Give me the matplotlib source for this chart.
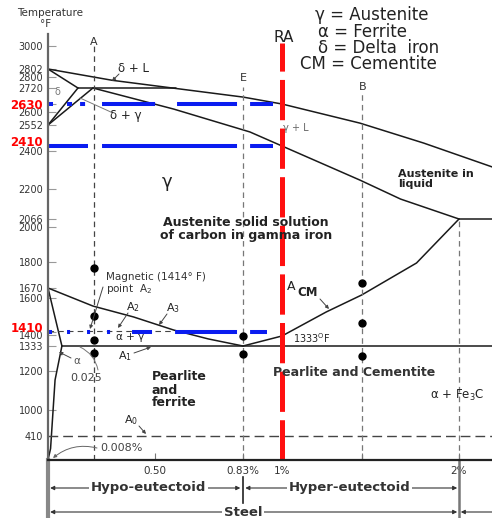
import numpy as np
import matplotlib
matplotlib.use("Agg")
import matplotlib.pyplot as plt
import matplotlib.transforms as mtransforms

plt.rcParams['font.family'] = ['DejaVu Sans']
plt.rcParams['lines.scale_dashes'] = False

# temperature (deg F) ticks on the left axis, red ones are the RA marks
temp_ticks = [410, 1000, 1200, 1333, 1400, 1410, 1600, 1670, 1800, 2000, 2066,
              2200, 2400, 2410, 2552, 2600, 2630, 2720, 2800, 2802, 3000]
red_ticks = [1410, 2410, 2630]
carbon_ticks = [0.5, 0.83, 1.0, 1.45, 2.0]
carbon_labels = ["0.50", "0.83%", "1%", "", "2%"]

# phase boundaries (carbon %, deg F)
liquidus_c = [0, 0.30, 0.83, 1.0, 1.44, 1.8, 2.19]
liquidus_t = [2802, 2776, 2669, 2630, 2559, 2430, 2316]
solidus_c = [0.21, 0.57, 0.86, 1.0, 1.44, 1.67, 2.0]
solidus_t = [2720, 2611, 2505, 2410, 2247, 2155, 2066]
delta_top_c = [0, 0.14]
delta_top_t = [2802, 2720]
delta_a_c = [0, 0.14]
delta_a_t = [2552, 2720]
delta_b_c = [0, 0.21]
delta_b_t = [2552, 2720]
peritectic_c = [0.14, 0.58]
peritectic_t = [2720, 2720]
eutectic_c = [2.0, 2.19]
eutectic_t = [2066, 2066]
a3_c = [0, 0.21, 0.40, 0.57, 0.70, 0.83]
a3_t = [1670, 1555, 1494, 1421, 1376, 1333]
acm_c = [0.83, 1.0, 1.25, 1.45, 1.76, 2.0]
acm_t = [1333, 1394, 1522, 1621, 1795, 2066]
alpha_c = [0, 0.065]
alpha_t = [1670, 1333]
solvus_c = [0.065, 0.033, 0.012, 0]
solvus_t = [1333, 1154, 300, 200]
a1_c = [0.065, 2.19]
a1_t = [1333, 1333]
a2_c = [0, 0.57]
a2_t = [1414, 1414]
a0_c = [0, 2.19]
a0_t = [410, 410]

# composition verticals
line_a = 0.215
line_e = 0.83
line_b = 1.45
line_ra = 1.0
top_a, top_e, top_b, top_ra = 3008, 2725, 2697, 3025

# RA temperatures (blue) and their extent
blue_t = [2630, 2410, 1410]
blue_end = [0.96, 0.96, 0.935]

# points marked on the verticals
dots_c = [0.215, 0.215, 0.215, 0.215, 0.83, 0.83, 1.45, 1.45, 1.45]
dots_t = [1770, 1500, 1370, 1295, 1394, 1290, 1695, 1460, 1280]

# ---- non linear axes of the drawing (piecewise) ----
C_KNOTS = [0, 0.5, 0.83, 1.0, 2.0, 2.2]
C_PIX = [48, 155, 243, 282, 459, 494]
T_KNOTS = [200] + temp_ticks + [3100]
T_PIX = [460, 436, 410, 371, 346, 335, 332, 298, 288, 262, 227, 219,
         189, 151, 146, 125, 112, 104, 88, 77, 69, 46, 34]
TP = -np.array(T_PIX, float)


def c_fwd(x):
    return np.interp(x, C_KNOTS, C_PIX)


def c_inv(p):
    return np.interp(p, C_PIX, C_KNOTS)


def t_fwd(t):
    return np.interp(t, T_KNOTS, TP)


def t_inv(p):
    return np.interp(p, TP, T_KNOTS)


W, H = 492, 518
fig = plt.figure(figsize=(W / 100, H / 100), dpi=100)
ax = fig.add_axes([48 / W, (H - 460) / H, 444 / W, 426 / H])
ax.set_xscale('function', functions=(c_fwd, c_inv))
ax.set_yscale('function', functions=(t_fwd, t_inv))

px = mtransforms.Affine2D().scale(1 / W, -1 / H).translate(0, 1) + fig.transFigure
blend = mtransforms.blended_transform_factory(ax.transData, px)

k = '#1a1a1a'
lw = 1.1
for cc, tt in [(liquidus_c, liquidus_t), (solidus_c, solidus_t),
               (delta_top_c, delta_top_t), (delta_a_c, delta_a_t),
               (delta_b_c, delta_b_t), (peritectic_c, peritectic_t),
               (eutectic_c, eutectic_t), (a3_c, a3_t), (acm_c, acm_t),
               (alpha_c, alpha_t), (solvus_c, solvus_t), (a1_c, a1_t)]:
    ax.plot(cc, tt, color=k, lw=lw, solid_capstyle='round')

ax.plot(a2_c, a2_t, color='#444', lw=0.8, linestyle=(0, (4, 3)))
ax.plot(a0_c, a0_t, color='#444', lw=1.0, linestyle=(0, (7, 3.6)))

# verticals
ax.plot([line_a, line_a], [200, top_a], color='#444', lw=0.9, linestyle=(0, (4, 3)))
ax.plot([line_e, line_e], [200, top_e], color='#777', lw=0.9, linestyle=(0, (4, 3)))
ax.plot([line_b, line_b], [200, top_b], color='#777', lw=0.9, linestyle=(0, (4, 3)))
ax.plot([2.0, 2.0], [200, 2066], color='#777', lw=0.9, linestyle=(0, (4, 3)))

# blue RA temperature lines
blue_dash = [
    (0, (3.6, 10.1, 3.6, 5.8, 3.6, 12.2, 38.2, 15.8, 43.2, 9.4, 16.6, 40)),
    (0, (28.8, 10.1, 97.2, 9.4, 17.3, 40)),
    (0, (2.9, 10.8, 2.2, 12.2, 2.2, 12.2, 2.2, 15.8, 14.4, 16.6, 44.6, 9.4, 12.2, 40)),
]
for t, e, d in zip(blue_t, blue_end, blue_dash):
    ax.plot([0, e], [t, t], color='#0a1cf0', lw=2.9, linestyle=d)

ax.plot([line_ra, line_ra], [200, top_ra], color='#ff1010', lw=3.6,
        linestyle=(0, (29, 6)))

ax.plot(dots_c, dots_t, 'o', color='black', ms=5)

# axes
ax.set_xlim(0, 2.1886)
ax.set_ylim(200, 3100)
ax.spines['top'].set_visible(False)
ax.spines['right'].set_visible(False)
ax.spines['left'].set_color('#666')
ax.spines['left'].set_linewidth(1.6)
ax.spines['bottom'].set_color('#222')
ax.spines['bottom'].set_linewidth(1.6)
ax.set_yticks(temp_ticks)
ax.set_yticklabels([str(t) for t in temp_ticks])
ax.set_xticks(carbon_ticks)
ax.set_xticklabels(carbon_labels)
ax.minorticks_off()
ax.tick_params(axis='y', direction='in', length=6, width=0.8, color='#999',
               pad=3.5, labelsize=7, labelcolor='#333')
ax.tick_params(axis='x', direction='in', length=5, width=0.8, color='#777',
               pad=4, labelsize=7.5, labelcolor='#333')
for tick, t in zip(ax.yaxis.get_major_ticks(), temp_ticks):
    lab = tick.label1
    if t in red_ticks:
        lab.set_color('red')
        lab.set_fontweight('bold')
        lab.set_fontsize(8.5)
        if t != 2630:
            lab.set_va('baseline')


def put(x, y, s, **kw):
    kw.setdefault('ha', 'center')
    kw.setdefault('va', 'center')
    kw.setdefault('color', '#222')
    fig.text(x, y, s, transform=px, **kw)


def lead(x0, y0, x1, y1, head=True, rad=0.0, color='#444'):
    ax.annotate('', xy=(x1, y1), xytext=(x0, y0), xycoords=px, textcoords=px,
                annotation_clip=False,
                arrowprops=dict(arrowstyle='-|>' if head else '-', color=color,
                                lw=0.7, mutation_scale=5, shrinkA=0, shrinkB=0,
                                connectionstyle='arc3,rad=%s' % rad))


put(50, 13, 'Temperature', size=7.5, color='#333')
put(46, 24, '°F', size=7.5, color='#333')
put(315, 15, 'γ = Austenite', ha='left', size=12)
put(318, 32, 'α = Ferrite', ha='left', size=12)
put(318, 48, 'δ = Delta  iron', ha='left', size=12)
put(300, 64, 'CM = Cementite', ha='left', size=12)
put(284, 38, 'RA', size=11)
put(94, 42, 'A', size=8, color='#333')
put(243, 78, 'E', size=8, color='#333')
put(363, 87, 'B', size=8, color='#333')

put(133, 68, 'δ + L', size=8.5)
lead(119, 74, 112, 81)
put(57, 92, 'δ', size=7, color='#777')
put(126, 116, 'δ + γ', size=8.5)
lead(113, 113, 80, 98, head=False, color='#777')
put(167, 182, 'γ', size=13)
put(296, 128, 'γ + L', size=7, color='#666')
put(398, 179, 'Austenite in\nliquid', ha='left', size=8, weight='bold', linespacing=1.0)
put(246, 229, 'Austenite solid solution\nof carbon in gamma iron', size=9,
    weight='bold', linespacing=1.0)

put(106, 277, 'Magnetic (1414° F)', ha='left', size=7.5, color='#333')
put(106, 289, 'point  A$_2$', ha='left', size=7.5, color='#333')
lead(103, 287, 90, 329)
put(133, 307, 'A$_2$', size=8)
lead(128, 313, 118, 328)
put(173, 308, 'A$_3$', size=8)
lead(167, 314, 159, 325)
put(130, 337, 'α + γ', size=7.5)
put(77, 361, 'α', size=7.5, color='#555')
lead(71, 358, 59, 352)
put(125, 356, 'A$_1$', size=8)
lead(134, 353, 151, 347)
put(86, 378, '0.025', size=8, color='#444')
lead(98, 370, 80, 347, head=False, rad=0.25, color='#777')
put(152, 390, 'Pearlite\nand\nferrite', ha='left', size=9, weight='bold', linespacing=1.0)
put(354, 372, 'Pearlite and Cementite', size=9, weight='bold', color='#333')
put(291, 286, 'A', size=9)
put(297, 292, 'CM', ha='left', size=8.5, weight='bold')
lead(320, 299, 329, 309)
put(293, 338, '1333$^{\\rm O}$F', ha='left', size=7)
put(430, 395, 'α + Fe$_3$C', ha='left', size=8.5)
put(131, 420, 'A$_0$', size=8)
lead(139, 426, 146, 434)
put(100, 448, '0.008%', ha='left', size=8, color='#444')
lead(97, 448, 53, 458, rad=0.25, color='#666')


# bottom ranges
def span(c0, c1, y, style):
    ax.annotate('', xy=(c1, y), xytext=(c0, y), xycoords=blend, textcoords=blend,
                annotation_clip=False,
                arrowprops=dict(arrowstyle=style, color='#333', lw=0.8,
                                mutation_scale=6, shrinkA=0, shrinkB=0))


span(0.01, 0.82, 488, '<|-|>')
span(0.84, 1.99, 488, '<|-|>')
span(0.01, 1.99, 512, '<|-|>')
span(2.19, 2.01, 512, '-|>')
bb = dict(facecolor='white', edgecolor='none', pad=1)
fig.text(0.47, 488, 'Hypo-eutectoid', transform=blend, ha='center', va='center',
         size=9.5, weight='bold', color='#333', bbox=bb)
fig.text(1.38, 488, 'Hyper-eutectoid', transform=blend, ha='center', va='center',
         size=9.5, weight='bold', color='#333', bbox=bb)
fig.text(0.83, 512, 'Steel', transform=blend, ha='center', va='center',
         size=9.5, weight='bold', color='#333', bbox=bb)
ax.plot([2.0, 2.0], [460, 518], transform=blend, clip_on=False, color='#777', lw=1.8)
ax.plot([0.83, 0.83], [477, 503], transform=blend, clip_on=False, color='#222', lw=1.2)
ax.plot([0, 0], [460, 518], transform=blend, clip_on=False, color='#888', lw=3)

ax.set_xlim(0, 2.1886)
ax.set_ylim(200, 3100)
fig.savefig('out.png', dpi=100)
